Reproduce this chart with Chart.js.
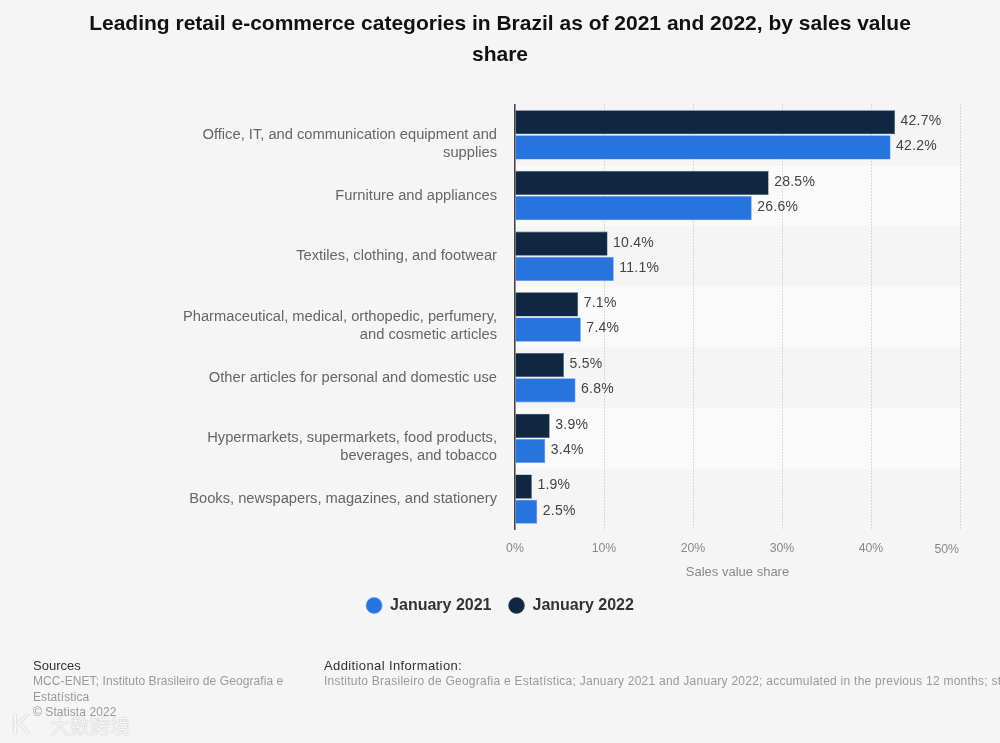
<!DOCTYPE html>
<html>
<head>
<meta charset="utf-8">
<style>
    html, body { margin: 0; padding: 0; background: #f5f5f5; width: 1000px; height: 743px; overflow: hidden; font-family: "Liberation Sans", sans-serif; }
    #chartBox { position: absolute; left: 0; top: 0; width: 1000px; height: 743px; }
    .foot { position: absolute; font-size: 12px; line-height: 15.7px; color: #999; letter-spacing: 0.08px; white-space: nowrap; }
    .foot b { display: block; font-weight: normal; font-size: 13px; line-height: 17px; color: #333; letter-spacing: 0; }
    #sources { left: 33px; top: 657px; }
    #info { left: 324px; top: 657px; letter-spacing: 0.25px; }
    #info b { letter-spacing: 0.38px; }
    #mark { position: absolute; left: 50px; top: 711px; font: 20px "Noto Sans CJK SC"; color: rgba(255,255,255,0.9); text-shadow: 0 0 1px #999; }
    #markK { position: absolute; left: 11px; top: 707px; font: 30px "Liberation Sans"; color: rgba(255,255,255,0.9); text-shadow: 0 0 1px #999; }
</style>
<script src="https://cdn.jsdelivr.net/npm/chart.js@4/dist/chart.umd.min.js"></script>
</head>
<body>
<div id="chartBox"><canvas id="retailChart" width="1000" height="743"></canvas></div>
<div class="foot" id="sources"><b>Sources</b>MCC-ENET; Instituto Brasileiro de Geografia e<br>Estatística<br>© Statista 2022</div>
<div class="foot" id="info"><b>Additional Information:</b>Instituto Brasileiro de Geografia e Estatística; January 2021 and January 2022; accumulated in the previous 12 months; st</div>
<div id="markK">K</div>
<div id="mark">大数跨境</div>
<script>
const categories = [
    ['Office, IT, and communication equipment and', 'supplies'],
    'Furniture and appliances',
    'Textiles, clothing, and footwear',
    ['Pharmaceutical, medical, orthopedic, perfumery,', 'and cosmetic articles'],
    'Other articles for personal and domestic use',
    ['Hypermarkets, supermarkets, food products,', 'beverages, and tobacco'],
    'Books, newspapers, magazines, and stationery'
];
const values2022 = [42.7, 28.5, 10.4, 7.1, 5.5, 3.9, 1.9];
const values2021 = [42.2, 26.6, 11.1, 7.4, 6.8, 3.4, 2.5];
const titleLines = ['Leading retail e-commerce categories in Brazil as of 2021 and 2022, by sales value', 'share'];

Chart.defaults.font.family = '"Liberation Sans", sans-serif';

// alternating row stripes behind the grid
const stripes = {
    id: 'stripes',
    beforeDraw(chart) {
        const { ctx, chartArea, scales } = chart;
        const step = scales.y.getPixelForTick(1) - scales.y.getPixelForTick(0);
        ctx.save();
        ctx.fillStyle = '#fafafa';
        categories.forEach((c, i) => {
            if (i % 2 === 1) {
                ctx.fillRect(chartArea.left, scales.y.getPixelForTick(i) - step / 2, chartArea.width, step);
            }
        });
        ctx.restore();
    }
};

// value labels at the bar ends, and the 50% tick which sits left of its gridline
const barLabels = {
    id: 'barLabels',
    afterDatasetsDraw(chart) {
        const { ctx, scales } = chart;
        ctx.save();
        ctx.font = '14px "Liberation Sans"';
        ctx.letterSpacing = '0.25px';
        ctx.fillStyle = '#444';
        ctx.textAlign = 'left';
        ctx.textBaseline = 'middle';
        chart.data.datasets.forEach((ds, d) => {
            chart.getDatasetMeta(d).data.forEach((bar, i) => {
                ctx.fillText(ds.data[i].toFixed(1) + '%', bar.x + 5.5, bar.y - 1);
            });
        });
        ctx.letterSpacing = '0px';
        ctx.font = '12.3px "Liberation Sans"';
        ctx.fillStyle = '#888';
        ctx.textAlign = 'right';
        ctx.fillText('50%', scales.x.getPixelForValue(50) - 1, scales.x.top + 20);
        ctx.restore();
    }
};

new Chart(document.getElementById('retailChart'), {
    type: 'bar',
    data: {
        labels: categories,
        datasets: [
            { label: 'January 2022', data: values2022, backgroundColor: '#0f2740', borderColor: '#3a5570', borderWidth: 0.6 },
            { label: 'January 2021', data: values2021, backgroundColor: '#2874de', borderColor: '#5c97ea', borderWidth: 0.6 }
        ]
    },
    options: {
        indexAxis: 'y',
        responsive: false,
        animation: false,
        devicePixelRatio: 1,
        categoryPercentage: 0.83,
        barPercentage: 0.96,
        layout: { padding: { left: 40, right: 40, top: 8.5, bottom: 119.5 } },
        plugins: {
            title: {
                display: true,
                text: titleLines,
                color: '#111',
                font: { size: 21, weight: 'bold', lineHeight: 1.476 },
                padding: { top: 0, bottom: 34 }
            },
            legend: {
                position: 'bottom',
                reverse: true,
                labels: {
                    usePointStyle: true,
                    pointStyle: 'circle',
                    boxWidth: 17,
                    boxHeight: 11.3,
                    padding: 17,
                    color: '#333',
                    font: { size: 16, weight: 'bold' }
                }
            },
            tooltip: { enabled: false }
        },
        scales: {
            x: {
                min: 0,
                max: 50,
                afterFit(scale) { scale.height = 51; },
                grid: { color: '#bbb', drawTicks: false, lineWidth: 1 },
                border: { display: false, dash: [1, 2] },
                ticks: {
                    stepSize: 10,
                    padding: 12,
                    maxRotation: 0,
                    color: '#888',
                    font: { size: 12.3 },
                    callback: (v) => (v === 50 ? '' : v + '%')
                },
                title: { display: true, text: 'Sales value share', color: '#888', font: { size: 13 }, padding: { top: 8, bottom: 0 } }
            },
            y: {
                afterFit(scale) { scale.width = 475; },
                grid: { display: false, drawTicks: false },
                border: { display: true, color: '#444', width: 1.5 },
                ticks: {
                    autoSkip: false,
                    padding: 18,
                    color: '#666',
                    font: { size: 14.7, lineHeight: 18 / 14.7 },
                    // the first line of a two-line label stays on the row centre
                    callback: (v, i) => (Array.isArray(categories[i]) ? ['', ...categories[i]] : categories[i])
                }
            }
        }
    },
    plugins: [stripes, barLabels]
});
</script>
</body>
</html>
